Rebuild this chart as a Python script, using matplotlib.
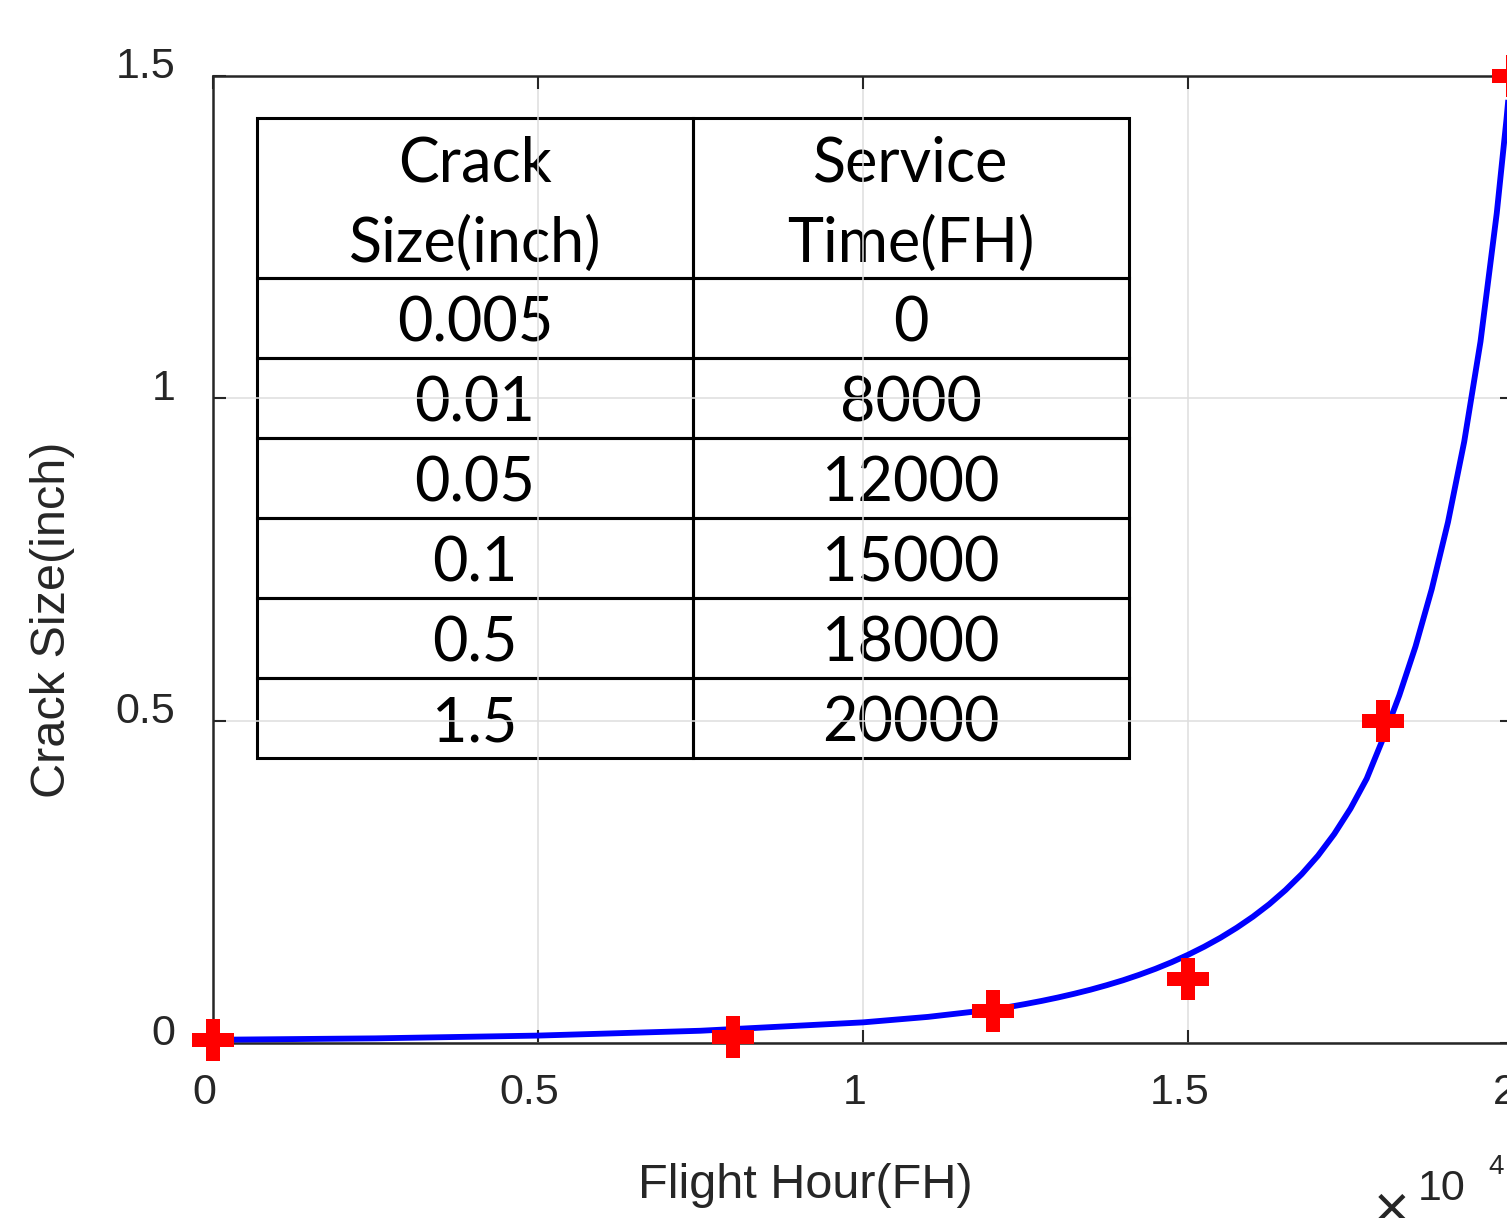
import matplotlib
matplotlib.use("Agg")
import matplotlib.pyplot as plt
from matplotlib.transforms import IdentityTransform, ScaledTranslation

# ---------------- data ----------------
service_time = [0, 8000, 12000, 15000, 18000, 20000]          # FH
crack_size = [0.005, 0.01, 0.05, 0.1, 0.5, 1.5]               # inch

# fitted curve
curve_t = [0, 2500, 5000, 7500, 10000, 11000, 12000, 12250, 12500, 12750,
           13000, 13250, 13500, 13750, 14000, 14250, 14500, 14750, 15000,
           15250, 15500, 15750, 16000, 16250, 16500, 16750, 17000, 17250,
           17500, 17750, 18000, 18250, 18500, 18750, 19000, 19250, 19500,
           19750, 19900, 19960]
curve_a = [0.005, 0.0072, 0.0115, 0.019, 0.032, 0.0405, 0.052, 0.056, 0.0605,
           0.0653, 0.0706, 0.0764, 0.0827, 0.0897, 0.0973, 0.1058, 0.1151,
           0.1254, 0.1368, 0.1494, 0.1633, 0.1788, 0.1960, 0.2153, 0.2372,
           0.2620, 0.2906, 0.3242, 0.3636, 0.4102, 0.4720, 0.5390, 0.6150,
           0.7040, 0.8080, 0.9330, 1.0880, 1.2870, 1.4330, 1.4990]

table_header = ["Crack\nSize(inch)", "Service\nTime(FH)"]
table_crack = ["0.005", "0.01", "0.05", "0.1", "0.5", "1.5"]
table_time = ["0", "8000", "12000", "15000", "18000", "20000"]

xticks = [0, 5000, 10000, 15000, 20000]
xtick_labels = ["0", "0.5", "1", "1.5", "2"]
yticks = [0, 0.5, 1, 1.5]
ytick_labels = ["0", "0.5", "1", "1.5"]

# ---------------- figure ----------------
W, H = 1507, 1218
fig = plt.figure(figsize=(W / 100, H / 100), dpi=100)
ax = fig.add_axes([213 / W, 175 / H, 1300 / W, 967 / H])

dark = "#262626"
tick_font = dict(family="Liberation Sans", size=31, color=dark)

ax.set_xlim(0, 20000)
ax.set_ylim(0, 1.5)
ax.set_xticks(xticks)
ax.set_yticks(yticks)
ax.set_xticklabels([])
ax.set_yticklabels([])
ax.tick_params(direction="in", length=9.5, width=1.5, color=dark,
               top=True, right=True)
for s in ax.spines.values():
    s.set_color(dark)
    s.set_linewidth(1.8)
ax.grid(True, color="#dedede", linewidth=1.1)
ax.set_axisbelow(True)

# tick labels
for xv, lab in zip(xticks, xtick_labels):
    ax.annotate(lab, xy=(xv, 0), xycoords=("data", "axes fraction"),
                xytext=(-6, -36), textcoords="offset points",
                ha="center", va="center", annotation_clip=False, **tick_font)
for yv, lab in zip(yticks, ytick_labels):
    ax.annotate(lab, xy=(0, yv), xycoords=("axes fraction", "data"),
                xytext=(-27, 6.5), textcoords="offset points",
                ha="right", va="center", annotation_clip=False, **tick_font)

# curve and points
ax.plot(curve_t, curve_a, color="blue", linewidth=4.2, zorder=3,
        solid_joinstyle="round")
ax.plot(service_time, crack_size, linestyle="none", marker="P", color="red",
        markersize=30, markeredgewidth=0, clip_on=False, zorder=4)

# table
cell_text = [[c, t] for c, t in zip(table_crack, table_time)]
tbl = ax.table(cellText=cell_text, colLabels=table_header, cellLoc="center",
               bbox=[44 / 1300, 285 / 967, 872 / 1300, 640 / 967])
tbl.auto_set_font_size(False)
for (r, c), cell in tbl.get_celld().items():
    cell.set_facecolor("none")
    cell.set_edgecolor("black")
    cell.set_linewidth(2.2)
    txt = cell.get_text()
    txt.set_fontsize(44)
    txt.set_fontfamily("Lato")
    txt.set_color("black")
    if r == 0:
        cell.set_height(cell.get_height() * 2)
        txt.set_linespacing(1.5)
        txt.set_transform(IdentityTransform()
                          + ScaledTranslation(0, -6 / 100, fig.dpi_scale_trans))
    else:
        txt.set_verticalalignment("center_baseline")

# axis labels
fig.text(805 / W, 1 - 1185 / H, "Flight Hour(FH)", ha="center", va="center",
         family="Liberation Sans", size=35, color=dark)
fig.text(53 / W, 1 - 620 / H, "Crack Size(inch)", ha="center", va="center",
         rotation=90, family="Liberation Sans", size=35, color=dark)

# exponent multiplier
fig.text(1392 / W, 1 - 1212 / H, "\u00d7", ha="center", va="center",
         family="Liberation Sans", size=44, color=dark)
fig.text(1442 / W, 1 - 1189 / H, "10", ha="center", va="center",
         family="Liberation Sans", size=31, color=dark)
fig.text(1496 / W, 1 - 1167 / H, "4", ha="center", va="center",
         family="Liberation Sans", size=20, color=dark)

fig.savefig("out.png", dpi=100)
